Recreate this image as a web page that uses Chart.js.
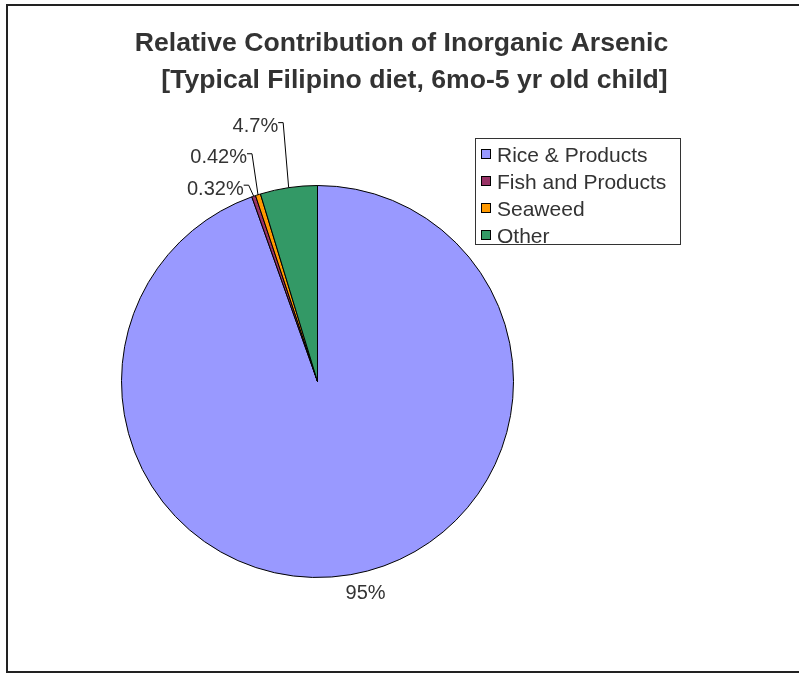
<!DOCTYPE html>
<html>
<head>
<meta charset="utf-8" />
<script src="https://cdn.jsdelivr.net/npm/chart.js@4.4.0/dist/chart.umd.min.js"></script>
<style>
  html,
  body {
    margin: 0;
    padding: 0;
    background: #fff;
  }
  .chart-container {
    position: relative;
    width: 799px;
    height: 673px;
  }
</style>
</head>
<body>
<div class="chart-container"><canvas id="myChart"></canvas></div>
<script>
const CATEGORIES = ["Rice & Products", "Fish and Products", "Seaweed", "Other"];
const SHARES = [94.56, 0.32, 0.42, 4.7];
const COLORS = ["#9999ff", "#993366", "#ff9900", "#339966"];
const TITLE_LINES = [
  "Relative Contribution of Inorganic Arsenic",
  "[Typical Filipino diet, 6mo-5 yr old child]",
];

const FONT = '"Liberation Sans", Arial, sans-serif';
const TEXT_COLOR = "#333";

// label position relative to the slice; leader = false means a plain label outside the rim
const LABEL_OFFSETS = [
  { dx: 11, dy: -3, leader: false },
  { dx: -5, dy: -11, leader: true },
  { dx: -6, dy: -41, leader: true },
  { dx: -5.5, dy: -65, leader: true },
];

const formatShare = (value, total) => {
  return ((value / total) * 100).toPrecision(2) + "%";
};

const framePlugin = {
  id: "frame",
  beforeDraw: (chart) => {
    const ctx = chart.ctx;
    ctx.save();
    ctx.fillStyle = "#fff";
    ctx.fillRect(0, 0, chart.width, chart.height);
    ctx.strokeStyle = "#222";
    ctx.lineWidth = 2;
    ctx.strokeRect(7, 5, chart.width + 10, chart.height - 1 - 5);
    ctx.restore();
  },
};

const titlePlugin = {
  id: "twoLineTitle",
  afterDraw: (chart) => {
    const ctx = chart.ctx;
    ctx.save();
    ctx.fillStyle = TEXT_COLOR;
    ctx.font = "bold 26.6px " + FONT;
    ctx.textAlign = "center";
    ctx.textBaseline = "alphabetic";
    ctx.fillText(TITLE_LINES[0], 401.5, 51);
    ctx.fillText(TITLE_LINES[1], 414.5, 88);
    ctx.restore();
  },
};

const sliceLabelPlugin = {
  id: "sliceLabels",
  afterDatasetsDraw: (chart) => {
    const ctx = chart.ctx;
    const meta = chart.getDatasetMeta(0);
    const values = chart.data.datasets[0].data;
    const total = values.reduce((a, b) => a + b, 0);

    ctx.save();
    ctx.font = "20px " + FONT;
    ctx.fillStyle = TEXT_COLOR;
    ctx.strokeStyle = "#000";
    ctx.lineWidth = 1;

    meta.data.forEach((arc, index) => {
      const { x, y, startAngle, endAngle, outerRadius } = arc.getProps(
        ["x", "y", "startAngle", "endAngle", "outerRadius"],
        true
      );
      const mid = (startAngle + endAngle) / 2;
      const text = formatShare(values[index], total);
      const offset = LABEL_OFFSETS[index];

      if (!offset.leader) {
        ctx.textAlign = "center";
        ctx.textBaseline = "middle";
        ctx.fillText(
          text,
          x + Math.cos(mid) * (outerRadius + 22) + offset.dx,
          y + Math.sin(mid) * (outerRadius + 22) + offset.dy
        );
        return;
      }

      const rimX = x + Math.cos(mid) * outerRadius;
      const rimY = y + Math.sin(mid) * outerRadius;
      const elbowX = rimX + offset.dx;
      const elbowY = rimY + offset.dy;

      ctx.beginPath();
      ctx.moveTo(rimX, rimY);
      ctx.lineTo(elbowX, elbowY);
      ctx.lineTo(elbowX - 5, elbowY);
      ctx.stroke();

      ctx.textAlign = "right";
      ctx.textBaseline = "middle";
      ctx.fillText(text, elbowX - 5, elbowY + 4);
    });
    ctx.restore();
  },
};

const legendBoxPlugin = {
  id: "legendBox",
  afterDraw: (chart) => {
    const ctx = chart.ctx;
    const box = { left: 475.5, top: 138.5, width: 205, height: 106 };
    const colors = chart.data.datasets[0].backgroundColor;

    ctx.save();
    ctx.fillStyle = "#fff";
    ctx.fillRect(box.left, box.top, box.width, box.height);

    ctx.beginPath();
    ctx.rect(box.left, box.top, box.width, box.height);
    ctx.clip();

    ctx.font = "21px " + FONT;
    ctx.textAlign = "left";
    ctx.textBaseline = "middle";
    chart.data.labels.forEach((label, index) => {
      const rowY = 155 + index * 27;
      ctx.fillStyle = colors[index];
      ctx.fillRect(481.5, rowY - 5.5, 9, 9);
      ctx.strokeStyle = "#000";
      ctx.lineWidth = 1;
      ctx.strokeRect(481.5, rowY - 5.5, 9, 9);
      ctx.fillStyle = TEXT_COLOR;
      ctx.fillText(label, 497, rowY + 1);
    });
    ctx.restore();

    ctx.save();
    ctx.strokeStyle = "#333";
    ctx.lineWidth = 1;
    ctx.strokeRect(box.left, box.top, box.width, box.height);
    ctx.restore();
  },
};

const canvas = document.getElementById("myChart");

const config = {
  type: "pie",
  data: {
    labels: CATEGORIES,
    datasets: [
      {
        data: SHARES,
        backgroundColor: COLORS,
        borderColor: "#000",
        borderWidth: 1,
        hoverOffset: 0,
      },
    ],
  },
  options: {
    responsive: true,
    maintainAspectRatio: false,
    animation: false,
    events: [],
    layout: {
      padding: { left: 121, right: 285, top: 185, bottom: 95 },
    },
    plugins: {
      legend: { display: false },
      title: { display: false },
      tooltip: { enabled: false },
    },
  },
  plugins: [framePlugin, titlePlugin, sliceLabelPlugin, legendBoxPlugin],
};

const myChart = new Chart(canvas, config);
</script>
</body>
</html>
